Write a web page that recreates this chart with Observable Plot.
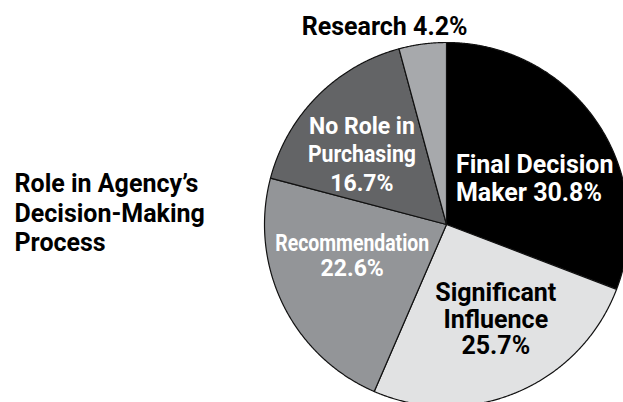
<!DOCTYPE html>
<html>
<head>
<meta charset="utf-8">
<script src="https://cdn.jsdelivr.net/npm/d3@7"></script>
<script src="https://cdn.jsdelivr.net/npm/@observablehq/plot@0.6"></script>
<style>
  html, body { margin: 0; padding: 0; background: #fff; overflow: hidden; }
  #chart svg { display: block; }
</style>
</head>
<body>
<div id="chart"></div>
<script>
// ---- data ----
const categories = ["Final Decision Maker", "Significant Influence", "Recommendation", "No Role in Purchasing", "Research"];
const shares = [30.8, 25.7, 22.6, 16.7, 4.2];
const sliceLabels = ["Final Decision\nMaker 30.8%", "Significant\nInfluence\n25.7%", "Recommendation\n22.6%", "No Role in\nPurchasing\n16.7%", "Research 4.2%"];
const sideTitle = ["Role in Agency’s", "Decision-Making", "Process"];
const sliceColors = ["#000000", "#e1e2e3", "#939598", "#636466", "#a7a9ac"];

// ---- layout / style config (not data) ----
const labelStyle = [
  {fill: "white", fontSize: 25, lineHeight: 1.1, textAnchor: "start", r: 0.57, dx: -76, dy: 12.5},
  {fill: "black", fontSize: 25, lineHeight: 1.07, textAnchor: "middle", r: 0.57, dx: 9, dy: -1},
  {fill: "white", fontSize: 23, lineHeight: 1.1, textAnchor: "middle", r: 0.57, dx: -1, dy: -14.5},
  {fill: "white", fontSize: 23, lineHeight: 1.23, textAnchor: "middle", r: 0.57, dx: -11, dy: 2},
  {fill: "black", fontSize: 25, lineHeight: 1.1, textAnchor: "middle", r: 1.0, dx: -38, dy: -18}
];
// horizontally condensed label lines (as in the original typesetting)
const condensedLines = {"Recommendation": 154, "Purchasing": 108};

const data = categories.map((c, i) => ({cat: c, share: shares[i], label: sliceLabels[i]}));
const arcs = d3.pie().sort(null).value(d => d.share)(data);

// slice outlines (center + arc) built from pie angles
const pts = arcs.flatMap(a => {
  const n = Math.max(4, Math.ceil((a.endAngle - a.startAngle) / 0.005));
  const out = [{cat: a.data.cat, x: 0, y: 0}];
  for (let i = 0; i <= n; i++) {
    const t = a.startAngle + (a.endAngle - a.startAngle) * i / n;
    out.push({cat: a.data.cat, x: Math.sin(t), y: Math.cos(t)});
  }
  return out;
});

const labelMarks = arcs.map((a, i) => {
  const s = labelStyle[i];
  const mid = (a.startAngle + a.endAngle) / 2;
  return Plot.text([{x: s.r * Math.sin(mid), y: s.r * Math.cos(mid), label: a.data.label}], {
    x: "x", y: "y", text: "label",
    fill: s.fill, fontSize: s.fontSize, fontWeight: "bold", lineHeight: s.lineHeight,
    textAnchor: s.textAnchor, dx: s.dx, dy: s.dy
  });
});

const chart = Plot.plot({
  width: 623,
  height: 402,
  margin: 0,
  x: {domain: [-1, 1], range: [264, 628], axis: null},
  y: {domain: [-1, 1], range: [406, 42], axis: null},
  color: {domain: categories, range: sliceColors},
  style: {fontFamily: "Roboto, 'Liberation Sans', sans-serif", background: "#fff", overflow: "visible"},
  marks: [
    Plot.line(pts, {x: "x", y: "y", z: "cat", fill: "cat", stroke: "#111", strokeWidth: 1.2, curve: "linear-closed"}),
    ...labelMarks,
    Plot.text([sideTitle.join("\n")], {
      text: d => d, frameAnchor: "left", textAnchor: "start",
      dx: 14, dy: 11, fontSize: 25, fontWeight: "bold", lineHeight: 1.18, fill: "black"
    })
  ]
});

d3.select(chart).selectAll("text, tspan").each(function () {
  const t = this.textContent;
  if (condensedLines[t] && !this.querySelector("tspan")) {
    this.setAttribute("textLength", condensedLines[t]);
    this.setAttribute("lengthAdjust", "spacingAndGlyphs");
  }
});

document.getElementById("chart").appendChild(chart);
</script>
</body>
</html>
